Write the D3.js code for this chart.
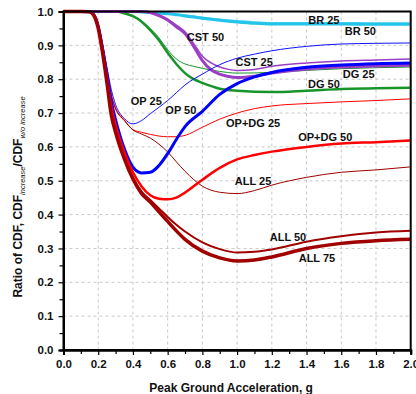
<!DOCTYPE html>
<html>
<head>
<meta charset="utf-8">
<script src="https://cdn.jsdelivr.net/npm/d3@7"></script>
<style>
  body { margin: 0; background: #fff; }
  text { font-family: "Liberation Sans", Arial, sans-serif; }
</style>
</head>
<body>
<div class="chart-container"></div>
<script>
// Data
// 紅/藍/深紅系列共用的 x (PGA, g)
const pga_main = [0, 0.1, 0.15, 0.175, 0.2, 0.225, 0.25, 0.275, 0.3, 0.35, 0.4, 0.45, 0.5, 0.55, 0.6, 0.65, 0.7, 0.8, 0.9, 1.0, 1.1, 1.2, 1.4, 1.6, 1.8, 2.0];
const op_25    = [1, 1, 0.999, 0.992, 0.962, 0.905, 0.835, 0.77, 0.725, 0.684, 0.668, 0.678, 0.698, 0.717, 0.737, 0.76, 0.783, 0.815, 0.843, 0.862, 0.874, 0.884, 0.897, 0.904, 0.906, 0.907];
const op_50    = [1, 1, 0.999, 0.99, 0.957, 0.89, 0.815, 0.735, 0.68, 0.595, 0.54, 0.523, 0.525, 0.545, 0.58, 0.622, 0.66, 0.705, 0.755, 0.787, 0.807, 0.82, 0.835, 0.842, 0.846, 0.848];
const opdg_25  = [1, 1, 0.999, 0.991, 0.958, 0.895, 0.825, 0.755, 0.715, 0.68, 0.651, 0.643, 0.637, 0.632, 0.63, 0.63, 0.634, 0.658, 0.682, 0.7, 0.713, 0.721, 0.728, 0.733, 0.737, 0.742];
const opdg_50  = [1, 1, 0.999, 0.99, 0.955, 0.885, 0.805, 0.72, 0.665, 0.585, 0.525, 0.483, 0.457, 0.447, 0.445, 0.45, 0.465, 0.503, 0.538, 0.563, 0.576, 0.586, 0.6, 0.61, 0.614, 0.619];
const all_25   = [1, 1, 0.999, 0.991, 0.958, 0.895, 0.825, 0.752, 0.712, 0.678, 0.65, 0.638, 0.626, 0.608, 0.585, 0.556, 0.528, 0.484, 0.466, 0.462, 0.471, 0.487, 0.51, 0.525, 0.532, 0.541];
const all_50   = [1, 1, 0.999, 0.989, 0.952, 0.88, 0.795, 0.7, 0.648, 0.57, 0.51, 0.468, 0.443, 0.418, 0.393, 0.37, 0.35, 0.318, 0.298, 0.288, 0.29, 0.297, 0.32, 0.336, 0.347, 0.352];
const all_75   = [1, 1, 0.999, 0.988, 0.95, 0.878, 0.79, 0.695, 0.643, 0.565, 0.505, 0.462, 0.437, 0.408, 0.38, 0.352, 0.327, 0.292, 0.272, 0.263, 0.266, 0.275, 0.3, 0.315, 0.323, 0.327];

// DG 系列
const pga_dg = [0, 0.3, 0.35, 0.4, 0.45, 0.5, 0.55, 0.6, 0.65, 0.7, 0.75, 0.8, 0.9, 1.0, 1.2, 1.4, 1.6, 1.8, 2.0];
const dg_25  = [1, 1, 0.995, 0.987, 0.972, 0.95, 0.922, 0.887, 0.86, 0.845, 0.838, 0.832, 0.823, 0.818, 0.82, 0.826, 0.831, 0.834, 0.836];
const dg_50  = [1, 1, 0.995, 0.986, 0.97, 0.945, 0.915, 0.878, 0.845, 0.818, 0.8, 0.789, 0.772, 0.766, 0.762, 0.766, 0.771, 0.773, 0.775];

// CST 系列
const pga_cst = [0, 0.45, 0.5, 0.55, 0.6, 0.65, 0.7, 0.75, 0.8, 0.85, 0.9, 0.95, 1.0, 1.1, 1.2, 1.4, 1.6, 1.8, 2.0];
const cst_25  = [1, 1, 0.997, 0.99, 0.977, 0.96, 0.94, 0.905, 0.868, 0.848, 0.836, 0.829, 0.826, 0.829, 0.838, 0.848, 0.854, 0.857, 0.86];
const cst_50  = [1, 1, 0.997, 0.988, 0.975, 0.955, 0.935, 0.897, 0.855, 0.828, 0.815, 0.808, 0.805, 0.809, 0.818, 0.83, 0.836, 0.839, 0.841];

// BR 系列
const pga_br = [0, 0.4, 0.5, 0.6, 0.7, 0.8, 0.9, 1.0, 1.1, 1.2, 1.4, 1.6, 1.8, 2.0];
const br_25  = [1, 1, 0.998, 0.995, 0.99, 0.983, 0.977, 0.973, 0.969, 0.967, 0.967, 0.967, 0.966, 0.966];
const br_50  = [1, 1, 0.997, 0.993, 0.987, 0.98, 0.974, 0.969, 0.965, 0.963, 0.963, 0.963, 0.962, 0.962];

// ticks
const x_ticks = [0, 0.2, 0.4, 0.6, 0.8, 1.0, 1.2, 1.4, 1.6, 1.8, 2.0];
const y_ticks = [0, 0.1, 0.2, 0.3, 0.4, 0.5, 0.6, 0.7, 0.8, 0.9, 1.0];

// 標籤 (文字, x in g, y in ratio) -> 文字中心
const series_labels = [
    ['BR 25', 1.50, 0.976],
    ['BR 50', 1.71, 0.941],
    ['CST 50', 0.818, 0.926],
    ['CST 25', 1.098, 0.85],
    ['DG 25', 1.70, 0.814],
    ['DG 50', 1.50, 0.785],
    ['OP 25', 0.477, 0.735],
    ['OP 50', 0.676, 0.708],
    ['OP+DG 25', 1.092, 0.671],
    ['OP+DG 50', 1.508, 0.628],
    ['ALL 25', 1.092, 0.499],
    ['ALL 50', 1.293, 0.333],
    ['ALL 75', 1.46, 0.273]
];

const zip = (xs, ys) => xs.map((x, i) => ({x: x, y: ys[i]}));

const series = [
    {name: 'BR 25',    color: '#4fd4f0', width: 1.5, values: zip(pga_br, br_25)},
    {name: 'BR 50',    color: '#22c4ea', width: 3,   values: zip(pga_br, br_50)},
    {name: 'DG 25',    color: '#17952a', width: 1,   values: zip(pga_dg, dg_25)},
    {name: 'DG 50',    color: '#17952a', width: 2.5, values: zip(pga_dg, dg_50)},
    {name: 'CST 25',   color: '#9a3fc4', width: 1.5, values: zip(pga_cst, cst_25)},
    {name: 'CST 50',   color: '#9a3fc4', width: 3,   values: zip(pga_cst, cst_50)},
    {name: 'OP 25',    color: '#1010ff', width: 1,   values: zip(pga_main, op_25)},
    {name: 'OP+DG 25', color: '#ff0000', width: 1,   values: zip(pga_main, opdg_25)},
    {name: 'ALL 25',   color: '#a00000', width: 1,   values: zip(pga_main, all_25)},
    {name: 'OP 50',    color: '#0000ff', width: 3,   values: zip(pga_main, op_50)},
    {name: 'OP+DG 50', color: '#ff0000', width: 2.5, values: zip(pga_main, opdg_50)},
    {name: 'ALL 50',   color: '#a00000', width: 2,   values: zip(pga_main, all_50)},
    {name: 'ALL 75',   color: '#a00000', width: 3.5, values: zip(pga_main, all_75)}
];

function setup_canvas(){
    const svg_width = 416;
    const svg_height = 394;
    const margin = {top: 11.5, right: 5.3, bottom: 44, left: 63.5};
    const chart_width = svg_width - margin.left - margin.right;
    const chart_height = svg_height - margin.top - margin.bottom;

    const svg = d3.select('.chart-container')
                  .append('svg')
                  .attr('width', svg_width)
                  .attr('height', svg_height);
    const g = svg.append('g')
                 .attr('transform', `translate(${margin.left}, ${margin.top})`);

    const x_scale = d3.scaleLinear().domain([0, 2]).range([0, chart_width]);
    const y_scale = d3.scaleLinear().domain([0, 1]).range([chart_height, 0]);

    // grid
    g.append('g').selectAll('line')
        .data(x_ticks.slice(1, -1))
        .enter().append('line')
        .attr('x1', d => x_scale(d)).attr('x2', d => x_scale(d))
        .attr('y1', 0).attr('y2', chart_height)
        .style('stroke', '#c8c8c8').style('stroke-dasharray', '3,3');
    g.append('g').selectAll('line')
        .data(y_ticks.slice(1, -1))
        .enter().append('line')
        .attr('y1', d => y_scale(d)).attr('y2', d => y_scale(d))
        .attr('x1', 0).attr('x2', chart_width)
        .style('stroke', '#c8c8c8').style('stroke-dasharray', '3,3');

    // lines
    const line_generator = d3.line()
                             .x(d => x_scale(d.x))
                             .y(d => y_scale(d.y))
                             .curve(d3.curveMonotoneX);
    g.append('g').selectAll('path')
        .data(series)
        .enter().append('path')
        .attr('d', d => line_generator(d.values))
        .style('fill', 'none')
        .style('stroke', d => d.color)
        .style('stroke-width', d => d.width)
        .style('stroke-linejoin', 'round');

    // frame
    g.append('rect')
        .attr('width', chart_width).attr('height', chart_height)
        .style('fill', 'none').style('stroke', '#000').style('stroke-width', 2);

    // axes
    const x_axis = d3.axisBottom(x_scale).tickValues(x_ticks).tickFormat(d3.format('.1f')).tickSize(5).tickPadding(5);
    const x_minor = d3.axisBottom(x_scale).tickValues(d3.range(0.1, 2, 0.2)).tickFormat('').tickSize(4);
    const y_axis = d3.axisLeft(y_scale).tickValues(y_ticks).tickFormat(d3.format('.1f')).tickSize(5).tickPadding(5);
    const y_minor = d3.axisLeft(y_scale).tickValues(d3.range(0.05, 1, 0.1)).tickFormat('').tickSize(4);

    [x_axis, x_minor].forEach(ax => {
        g.append('g').attr('class', 'x axis')
         .attr('transform', `translate(0, ${chart_height})`)
         .call(ax);
    });
    [y_axis, y_minor].forEach(ax => {
        g.append('g').attr('class', 'y axis').call(ax);
    });
    g.selectAll('.axis .domain').style('stroke', '#000').style('stroke-width', 2);
    g.selectAll('.axis .tick line').style('stroke', '#000').style('stroke-width', 1.2);
    g.selectAll('.axis text')
        .style('font-family', '"Liberation Sans", Arial, sans-serif')
        .style('font-size', '11.5px')
        .style('font-weight', 'bold')
        .style('fill', '#111');

    // series labels
    g.append('g').selectAll('text')
        .data(series_labels)
        .enter().append('text')
        .attr('x', d => x_scale(d[1]))
        .attr('y', d => y_scale(d[2]))
        .attr('text-anchor', 'middle')
        .attr('dominant-baseline', 'central')
        .style('font-size', '11px')
        .style('font-weight', 'bold')
        .style('fill', '#111')
        .text(d => d[0]);

    // x title
    svg.append('text')
        .attr('x', margin.left + chart_width / 2 - 6)
        .attr('y', 392)
        .attr('text-anchor', 'middle')
        .style('font-size', '12px')
        .style('font-weight', 'bold')
        .style('fill', '#111')
        .text('Peak Ground Acceleration, g');

    // y title (有下標)
    const y_title = svg.append('text')
        .attr('transform', 'translate(22, 197) rotate(-90)')
        .attr('text-anchor', 'middle')
        .style('font-size', '12px')
        .style('font-weight', 'bold')
        .style('fill', '#111');
    y_title.append('tspan').text('Ratio of CDF, CDF');
    y_title.append('tspan').attr('dy', 3).style('font-size', '7.5px').style('font-weight', 'normal').style('font-style', 'italic').text('increase');
    y_title.append('tspan').attr('dy', -3).text('/CDF');
    y_title.append('tspan').attr('dy', 3).style('font-size', '7.5px').style('font-weight', 'normal').style('font-style', 'italic').text('w/o increase');
}

setup_canvas();
</script>
</body>
</html>
